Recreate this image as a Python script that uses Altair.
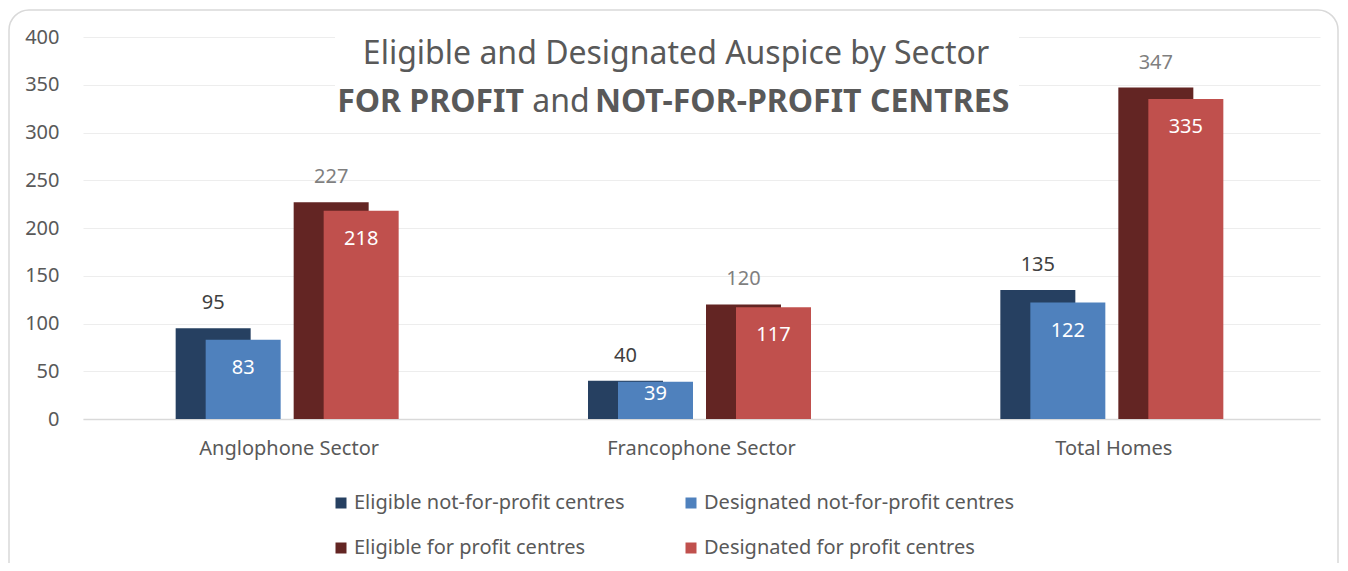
import altair as alt
import pandas as pd

categories = ["Anglophone Sector", "Francophone Sector", "Total Homes"]
eligible_nfp = [95, 40, 135]
designated_nfp = [83, 39, 122]
eligible_fp = [227, 120, 347]
designated_fp = [218, 117, 335]
series_names = [
    "Eligible not-for-profit centres",
    "Designated not-for-profit centres",
    "Eligible for profit centres",
    "Designated for profit centres",
]
series_colors = ["#264061", "#4f81bd", "#632523", "#c0504d"]
legend_order = [0, 2, 1, 3]  # column-major layout -> row 1: NFP pair, row 2: FP pair
y_ticks = [0, 50, 100, 150, 200, 250, 300, 350, 400]
title_line1 = "Eligible and Designated Auspice by Sector"
title_bold_a = "FOR PROFIT"
title_mid = "and"
title_bold_b = "NOT-FOR-PROFIT CENTRES"

FONT = "Noto Sans"
TXT = "#595959"

rows = []
for s, vals in zip(series_names, [eligible_nfp, designated_nfp, eligible_fp, designated_fp]):
    for c, v in zip(categories, vals):
        rows.append({"category": c, "series": s, "value": v})
df = pd.DataFrame(rows)

x_enc = alt.X(
    "category:N",
    sort=categories,
    scale=alt.Scale(domain=categories, paddingInner=0, paddingOuter=0),
    axis=alt.Axis(
        title=None, labelAngle=0, ticks=False, grid=False, domainColor="#d9d9d9", domainWidth=1.5,
        labelFontSize=20, labelColor=TXT, labelPadding=19, labelFont=FONT, labelLimit=400,
    ),
)
y_scale = alt.Scale(domain=[0, 400], nice=False)
y_enc = alt.Y(
    "value:Q",
    scale=y_scale,
    axis=alt.Axis(
        title=None, values=y_ticks, domain=False, ticks=False, gridColor="#ededed",
        labelFontSize=20, labelColor=TXT, labelPadding=24, labelFont=FONT,
    ),
)
color_enc = alt.Color(
    "series:N",
    scale=alt.Scale(
        domain=[series_names[i] for i in legend_order],
        range=[series_colors[i] for i in legend_order],
    ),
    legend=alt.Legend(
        title=None, orient="none", legendX=248, legendY=456, columns=2,
        symbolType="square", symbolSize=121, symbolStrokeWidth=0,
        labelFontSize=20, labelColor=TXT, labelFont=FONT, labelOffset=3,
        rowPadding=25, columnPadding=56, labelLimit=500,
    ),
)

base = alt.Chart(df)
offsets = [-76, -46, 42, 72]
label_colors = ["#404040", "#ffffff", "#7f7f7f", "#ffffff"]
inside = [False, True, False, True]

bars = []
labels = []
for s, off, lc, ins in zip(series_names, offsets, label_colors, inside):
    bars.append(
        base.transform_filter(alt.datum.series == s)
        .mark_bar(size=75, xOffset=off)
        .encode(x=x_enc, y=y_enc, color=color_enc)
    )
    if ins:
        lab = (
            base.transform_filter(alt.datum.series == s)
            .transform_calculate(ly="datum.value < 60 ? datum.value - 12.5 : datum.value - 29.5")
            .mark_text(xOffset=off, fontSize=20, font=FONT, color=lc, baseline="middle")
            .encode(x=x_enc, y=alt.Y("ly:Q", scale=y_scale), text="value:Q")
        )
    else:
        lab = (
            base.transform_filter(alt.datum.series == s)
            .mark_text(xOffset=off, dy=-25, fontSize=20, font=FONT, color=lc, baseline="middle")
            .encode(x=x_enc, y=y_enc, text="value:Q")
        )
    labels.append(lab)

one = pd.DataFrame({"a": [0]})
border = alt.Chart(one).mark_rect(
    fillOpacity=0, stroke="#d9d9d9", strokeWidth=1.5, cornerRadius=20
).encode(x=alt.value(-74), x2=alt.value(1255), y=alt.value(-27), y2=alt.value(700))

title_bg = alt.Chart(one).mark_rect(fill="white").encode(
    x=alt.value(252), x2=alt.value(936), y=alt.value(-5), y2=alt.value(80)
)
t1 = alt.Chart(one).mark_text(
    text=title_line1, fontSize=32, font=FONT, color=TXT, align="center", baseline="middle"
).encode(x=alt.value(593), y=alt.value(17))
t2a = alt.Chart(one).mark_text(
    text=title_bold_a, fontSize=32, font=FONT, fontWeight="bold", color=TXT, align="right", baseline="middle"
).encode(x=alt.value(441), y=alt.value(65))
t2b = alt.Chart(one).mark_text(
    text=title_mid, fontSize=32, font=FONT, color=TXT, align="center", baseline="middle"
).encode(x=alt.value(478), y=alt.value(65))
t2c = alt.Chart(one).mark_text(
    text=title_bold_b, fontSize=32, font=FONT, fontWeight="bold", color=TXT, align="left", baseline="middle"
).encode(x=alt.value(512), y=alt.value(65))

chart = alt.layer(
    border, *bars, *labels, title_bg, t1, t2a, t2b, t2c
).properties(
    width=1237, height=382,
    autosize=alt.AutoSizeParams(type="none"),
    padding={"left": 75, "top": 29, "right": 19, "bottom": 144},
).configure(
    font=FONT,
    view=alt.ViewConfig(stroke="transparent", strokeWidth=0, strokeOpacity=0),
)

chart.save("out.html", embed_options={"renderer": "svg", "actions": False})
